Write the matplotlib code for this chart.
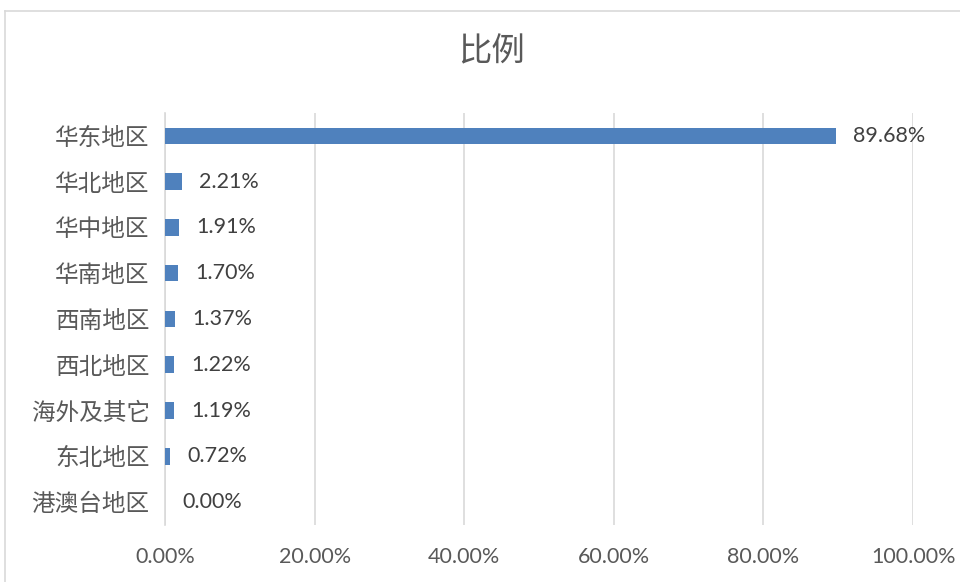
import matplotlib
matplotlib.use("Agg")
import matplotlib.pyplot as plt
from matplotlib.lines import Line2D

plt.rcParams['font.family'] = ['Noto Sans CJK SC', 'DejaVu Sans']

regions = ["华东地区", "华北地区", "华中地区", "华南地区", "西南地区",
           "西北地区", "海外及其它", "东北地区", "港澳台地区"]
shares = [89.68, 2.21, 1.91, 1.70, 1.37, 1.22, 1.19, 0.72, 0.00]
xticks = [0, 20, 40, 60, 80, 100]

grey = "#595959"
bar_color = "#4f81bd"

fig = plt.figure(figsize=(9.6, 5.82), dpi=100)
ax = fig.add_axes([0.1719, 0.098, 0.7792, 0.708])

y = list(range(len(regions)))
ax.barh(y, shares, height=0.36, color=bar_color, zorder=3)
ax.set_ylim(len(regions) - 0.5, -0.5)
ax.set_xlim(0, 100)
ax.set_yticks(y)
ax.set_yticklabels(regions, fontsize=17, color=grey)
ax.set_xticks(xticks)
ax.set_xticklabels(["%.2f%%" % t for t in xticks], fontsize=15.5, color=grey,
                   family=['Lato', 'DejaVu Sans'])
ax.tick_params(axis='both', length=0)
ax.tick_params(axis='y', pad=11)
ax.tick_params(axis='x', pad=16)
ax.grid(axis='x', color="#d9d9d9", linewidth=1.2, zorder=0)
for s in ["top", "right", "bottom"]:
    ax.spines[s].set_visible(False)
ax.spines["left"].set_color("#d9d9d9")
ax.spines["left"].set_linewidth(1.2)

for yi, v in zip(y, shares):
    ax.text(v + 2.3, yi, "%.2f%%" % v, va='center', ha='left', fontsize=15.5,
            color="#404040", family=['Lato', 'DejaVu Sans'])

fig.text(0.512, 0.91, "比例", ha='center', va='center', fontsize=24,
         color=grey)

# outer chart border (left and top visible)
fig.add_artist(Line2D([5 / 960, 5 / 960], [0, 1 - 11 / 582], color="#d9d9d9",
                      linewidth=1.2, transform=fig.transFigure))
fig.add_artist(Line2D([5 / 960, 1], [1 - 11 / 582, 1 - 11 / 582], color="#d9d9d9",
                      linewidth=1.2, transform=fig.transFigure))

fig.savefig("out.png", dpi=100, facecolor="white")
